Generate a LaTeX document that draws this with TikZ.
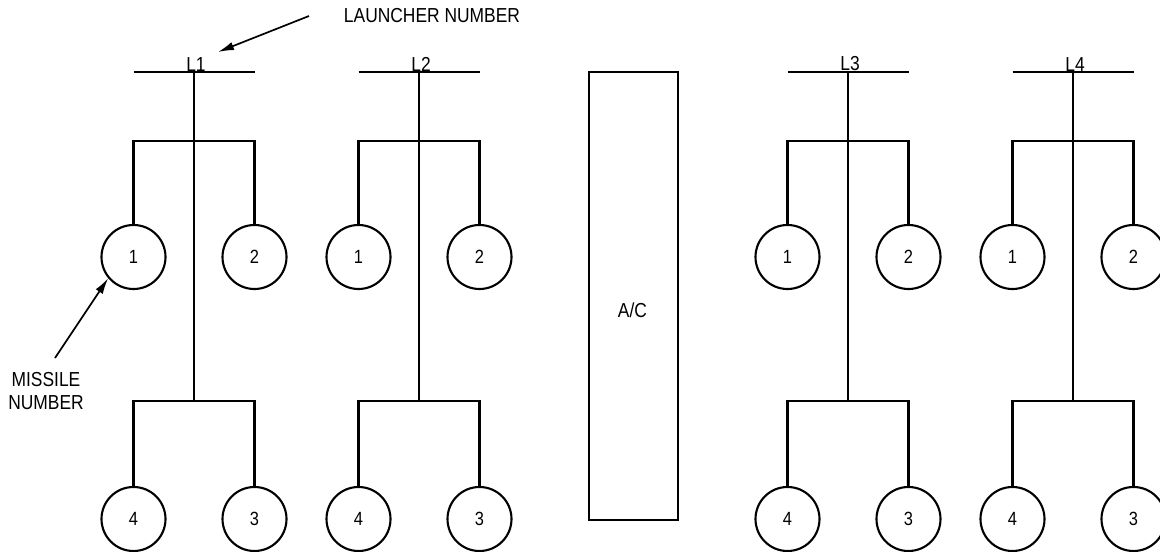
\documentclass[tikz,border=0pt]{standalone}
\usepackage{fontspec}
\setmainfont{Liberation Sans}[FakeStretch=0.86]
\usetikzlibrary{arrows.meta, positioning}

\begin{document}
\begin{tikzpicture}[x=0.025cm, y=-0.025cm,
    wire/.style={line width=1.7pt},
    pointer/.style={line width=1.2pt, -{Latex[length=0.4cm, width=0.21cm]}},
    missile/.style={draw, circle, line width=1.5pt, minimum size=1.6cm,
                    inner sep=0pt, font=\fontsize{13.6}{15}\selectfont},
    lbl/.style={font=\fontsize{14.4}{16.4}\selectfont, inner sep=0.5pt}]
  \useasboundingbox (0,0) rectangle (1160,552);

  % Werfer mit je vier Flugkoerpern
  \foreach \n/\x in {1/194, 2/419, 3/848, 4/1073} {
    \coordinate (L\n-l) at (\x-60.5,72);
    \coordinate (L\n-r) at (\x+60.5,72);
    \coordinate (L\n-hub) at (\x,72);
    \coordinate (L\n-up) at (\x,141);
    \coordinate (L\n-low) at (\x,401);
    \node[missile] (m\n-1) at (\x-60.5,257) {1};
    \node[missile] (m\n-2) at (\x+60.5,257) {2};
    \node[missile] (m\n-4) at (\x-60.5,519) {4};
    \node[missile] (m\n-3) at (\x+60.5,519) {3};
    \node[lbl, anchor=south] (L\n) at ([xshift=0.05cm]L\n-hub) {L\n};
    \draw[wire] (L\n-l) -- (L\n-r);
    \draw[wire] (L\n-hub) -- (L\n-low);
    \draw[wire] (m\n-1) |- (L\n-up) -| (m\n-2);
    \draw[wire] (m\n-4) |- (L\n-low) -| (m\n-3);
  }

  % Flugzeug
  \node[draw, line width=1.8pt, minimum width=2.225cm, minimum height=11.2cm,
        inner sep=0pt] (ac) at (633.5,296) {};
  \node[lbl] (ac-txt) at (632.5,310) {A/C};

  % Beschriftungen
  \node[lbl] (launch-txt) at (432,15.5) {LAUNCHER NUMBER};
  \coordinate (launch-tail) at (309,16);
  \coordinate (launch-tip) at (218,52);
  \draw[pointer] (launch-tail) -- (launch-tip);

  \node[lbl, align=center] (miss-txt) at (46,391) {MISSILE\\NUMBER};
  \coordinate (miss-tail) at (55,358);
  \draw[pointer] (miss-tail) -- (m1-1.220);
\end{tikzpicture}
\end{document}
